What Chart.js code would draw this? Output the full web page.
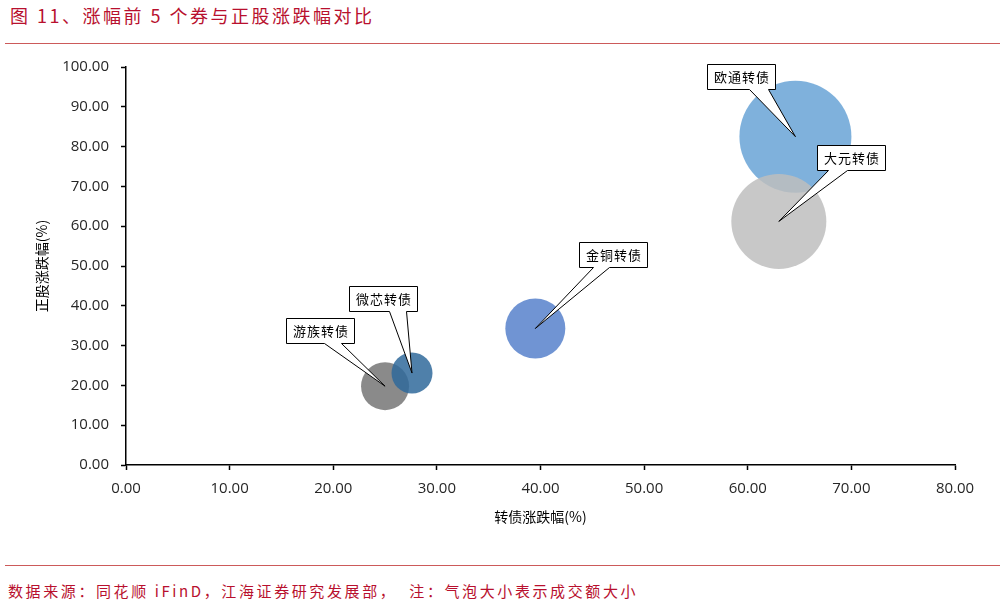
<!DOCTYPE html>
<html><head><meta charset="utf-8">
<script src="https://cdn.jsdelivr.net/npm/chart.js@4.4.0/dist/chart.umd.min.js"></script>
<style>
html,body{margin:0;padding:0;background:#fff;width:1004px;height:608px;overflow:hidden;position:relative;font-family:"Noto Sans CJK SC",sans-serif;}
#title{position:absolute;left:10px;top:2px;font-size:18px;letter-spacing:2.5px;color:#b8102e;white-space:nowrap;line-height:26px;}
.rule{position:absolute;left:5px;width:995px;height:0;border-top:1.5px solid #cc5a5a;}
#foot{position:absolute;left:8px;top:579px;font-size:15px;letter-spacing:2.6px;color:#b8102e;white-space:nowrap;line-height:24px;}
#wrap{position:absolute;left:0;top:46px;width:1004px;height:504px;}
</style></head>
<body>
<div id="title">图 11、涨幅前 5 个券与正股涨跌幅对比</div>
<div class="rule" style="top:43px"></div>
<div id="wrap"><canvas id="c"></canvas></div>
<div class="rule" style="top:565px"></div>
<div id="foot">数据来源：同花顺 iFinD，江海证券研究发展部，&nbsp; 注：气泡大小表示成交额大小</div>
<script>
const bonds = ['游族转债','微芯转债','金铜转债','欧通转债','大元转债'];
const bondChange = [25.0, 27.6, 39.5, 64.6, 63.0];
const stockChange = [19.8, 23.1, 34.3, 82.5, 61.2];
const turnoverBubble = [24, 20.5, 30, 56, 47.5];
const xAxisTicks = [0,10,20,30,40,50,60,70,80];
const yAxisTicks = [0,10,20,30,40,50,60,70,80,90,100];

const colors = ['rgba(117,117,117,0.85)','rgba(48,106,155,0.85)','rgba(87,129,203,0.85)','rgba(105,163,214,0.85)','rgba(190,190,190,0.85)'];
// callout: box center offset from point (dx,dy), wedge base start/end from box left
const callouts = [[-65,-56,38,55],[-29,-75,40,57],[78,-74,14,30],[-54,-60,42,61],[72,-64,11,30]];

const calloutPlugin = {
  id:'callouts',
  afterDatasetsDraw(chart){
    const ctx = chart.ctx, xs = chart.scales.x, ys = chart.scales.y;
    const W = 68, H = 25;
    bonds.forEach((name,i)=>{
      const px = xs.getPixelForValue(bondChange[i]);
      const py = ys.getPixelForValue(stockChange[i]);
      const [dx,dy,b1,b2] = callouts[i];
      const L = Math.round(px+dx-W/2)+0.5, T = Math.round(py+dy-H/2)+0.5, R = L+W, B = T+H;
      ctx.save();
      ctx.beginPath();
      ctx.moveTo(L,T); ctx.lineTo(R,T); ctx.lineTo(R,B);
      ctx.lineTo(L+b2,B); ctx.lineTo(px,py); ctx.lineTo(L+b1,B);
      ctx.lineTo(L,B); ctx.closePath();
      ctx.fillStyle='#fff'; ctx.fill();
      ctx.strokeStyle='#000'; ctx.lineWidth=1; ctx.stroke();
      ctx.fillStyle='#000';
      ctx.font='13px "Noto Sans CJK SC"';
      ctx.letterSpacing='1px';
      ctx.textAlign='center'; ctx.textBaseline='middle';
      ctx.fillText(name,(L+R)/2+0.5,(T+B)/2+0.5);
      ctx.restore();
    });
  }
};

const tickFont = {family:'"Open Sans"', size:15};
new Chart(document.getElementById('c'),{
  type:'bubble',
  data:{datasets:[{
    data: bonds.map((b,i)=>({x:bondChange[i], y:stockChange[i], r:turnoverBubble[i]})),
    backgroundColor: colors,
    borderWidth:0,
    hoverRadius:0
  }]},
  options:{
    responsive:true, maintainAspectRatio:false, animation:false,
    layout:{autoPadding:false, padding:{top:12,right:49,left:0,bottom:0}},
    plugins:{legend:{display:false},tooltip:{enabled:false}},
    scales:{
      x:{type:'linear',min:0,max:80,
        afterBuildTicks(s){s.ticks = xAxisTicks.map(v=>({value:v}));},
        afterFit(s){s.height=85;},
        ticks:{callback:v=>Number(v).toFixed(2),font:tickFont,color:'#262626',padding:10,maxRotation:0},
        grid:{drawOnChartArea:false,drawTicks:true,tickLength:5,tickColor:'#000',tickWidth:1.5},
        border:{color:'#000',width:1.5},
        title:{display:true,text:'转债涨跌幅(%)',font:{family:'"Noto Sans CJK SC"',size:14},color:'#000',padding:{top:0,bottom:24.6}}
      },
      y:{type:'linear',min:0,max:100,
        afterBuildTicks(s){s.ticks = yAxisTicks.map(v=>({value:v}));},
        afterFit(s){s.width=126;},
        ticks:{callback:v=>Number(v).toFixed(2),font:tickFont,color:'#262626',padding:12},
        grid:{drawOnChartArea:false,drawTicks:true,tickLength:5,tickColor:'#000',tickWidth:1.5},
        border:{color:'#000',width:1.5},
        title:{display:true,text:'正股涨跌幅(%)',font:{family:'"Noto Sans CJK SC"',size:14},color:'#000',padding:{top:33.6,bottom:0}}
      }
    }
  },
  plugins:[calloutPlugin]
});
</script>
</body></html>
